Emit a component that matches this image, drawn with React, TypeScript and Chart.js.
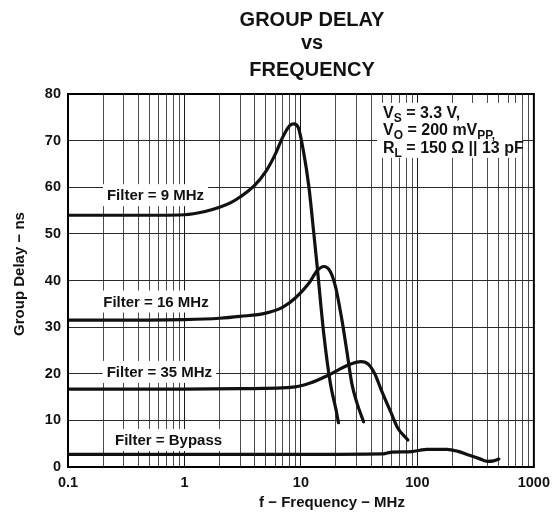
import React, { useEffect, useRef } from 'react';
import { Chart, registerables } from 'chart.js';

Chart.register(...registerables);

const FONT = '"Liberation Sans", Arial, Helvetica, sans-serif';
const INK = '#111111';

// ---- Text ----
const TITLE_LINES = ['GROUP DELAY', 'vs', 'FREQUENCY'];
const X_AXIS_TITLE = 'f − Frequency − MHz';
const Y_AXIS_TITLE = 'Group Delay − ns';

// ---- Axes ----
const X_MIN = 0.1;
const X_MAX = 1000;
const X_DECADES = [0.1, 1, 10, 100];
const X_MANTISSAS = [1, 2, 3, 4, 5, 6, 7, 8, 9];
const X_TICK_VALUES = [0.1, 1, 10, 100, 1000];
const X_TICK_LABELS = ['0.1', '1', '10', '100', '1000'];
const Y_MIN = 0;
const Y_MAX = 80;
const Y_STEP = 10;

// ---- Series (frequency in MHz, group delay in ns) ----
const F9_FREQ = [0.1, 0.3, 0.6, 1, 1.5, 2, 2.5, 3, 4, 5, 6, 7, 8, 8.7, 9.5, 10.5, 11.7, 12.9, 13.8, 15.7, 17.9, 20, 21];
const F9_DELAY = [54, 54, 54, 54.1, 54.8, 55.7, 56.7, 57.9, 60.4, 63.4, 67.0, 70.8, 73.2, 73.6, 72.8, 67.8, 60.1, 50.1, 42.9, 28.6, 17.9, 12.3, 9.5];

const F16_FREQ = [0.1, 0.5, 1, 2, 3, 5, 7, 9, 11.7, 13.8, 15.7, 17.9, 19.8, 22.5, 24.7, 27.3, 30.3, 34.5];
const F16_DELAY = [31.5, 31.5, 31.6, 31.9, 32.3, 33.0, 34.3, 36.3, 39.4, 42.1, 43.0, 41.9, 38.7, 31.5, 25.1, 18.0, 13.7, 9.7];

const F35_FREQ = [0.1, 0.5, 1, 3, 9, 12, 17.2, 25.5, 33, 38, 43, 49, 59.7, 68, 82.8];
const F35_DELAY = [16.7, 16.7, 16.7, 16.8, 17.2, 18.0, 19.7, 21.9, 22.6, 22.0, 20.0, 16.5, 11.5, 8.3, 5.8];

const BYPASS_FREQ = [0.1, 1, 10, 50, 55, 60, 90, 105, 120, 180, 220, 280, 340, 400, 450, 500];
const BYPASS_DELAY = [2.7, 2.7, 2.7, 2.8, 3.0, 3.2, 3.3, 3.6, 3.8, 3.8, 3.4, 2.5, 1.8, 1.2, 1.3, 1.7];

// ---- Curve labels (anchored in data coordinates) ----
const CURVE_LABELS = ['Filter = 9 MHz', 'Filter = 16 MHz', 'Filter = 35 MHz', 'Filter = Bypass'];
const CURVE_LABEL_F = [0.564, 0.569, 0.609, 0.73];
const CURVE_LABEL_V = [58.3, 35.5, 20.4, 5.8];

// ---- Conditions box ----
type Seg = [string, boolean];
const COND_LINES: Seg[][] = [
  [['V', false], ['S', true], [' = 3.3 V,', false]],
  [['V', false], ['O', true], [' = 200 mV', false], ['PP,', true]],
  [['R', false], ['L', true], [' = 150 Ω || 13 pF', false]],
];
const COND_BOX_F = [45, 792];
const COND_BOX_V = [78.1, 66.3];

const X_TICKS: number[] = [];
X_DECADES.forEach((d) => X_MANTISSAS.forEach((m) => X_TICKS.push(m * d)));
X_TICKS.push(X_MAX);

function decadeLabel(v: number): string {
  for (let i = 0; i < X_TICK_VALUES.length; i++) {
    if (Math.abs(v - X_TICK_VALUES[i]) < X_TICK_VALUES[i] * 1e-6) return X_TICK_LABELS[i];
  }
  return '';
}

function toPoints(fs: number[], vs: number[]) {
  return fs.map((f, i) => ({ x: f, y: vs[i] }));
}

const overlayPlugin = {
  id: 'overlay',
  beforeDatasetsDraw(chart: any) {
    const ctx: CanvasRenderingContext2D = chart.ctx;
    const xs = chart.scales.x;
    const ys = chart.scales.y;
    ctx.save();
    // curve labels with white background
    ctx.font = `bold 15px ${FONT}`;
    ctx.textAlign = 'center';
    ctx.textBaseline = 'middle';
    CURVE_LABELS.forEach((t, i) => {
      const px = xs.getPixelForValue(CURVE_LABEL_F[i]);
      const py = ys.getPixelForValue(CURVE_LABEL_V[i]);
      const w = ctx.measureText(t).width;
      ctx.fillStyle = '#ffffff';
      ctx.fillRect(px - w / 2 - 4, py - 11, w + 8, 22);
      ctx.fillStyle = INK;
      ctx.fillText(t, px, py + 1);
    });
    // conditions box
    const bl = xs.getPixelForValue(COND_BOX_F[0]);
    const br = xs.getPixelForValue(COND_BOX_F[1]);
    const bt = ys.getPixelForValue(COND_BOX_V[0]);
    const bb = ys.getPixelForValue(COND_BOX_V[1]);
    ctx.fillStyle = '#ffffff';
    ctx.fillRect(bl, bt, br - bl, bb - bt);
    ctx.fillStyle = INK;
    ctx.textAlign = 'left';
    ctx.textBaseline = 'alphabetic';
    const lineOffsets = [15, 32.5, 50];
    COND_LINES.forEach((segs, li) => {
      let cx = bl + 6;
      const base = bt + lineOffsets[li];
      segs.forEach(([txt, sub]) => {
        ctx.font = sub ? `bold 12px ${FONT}` : `bold 16px ${FONT}`;
        ctx.fillText(txt, cx, base + (sub ? 4 : 0));
        cx += ctx.measureText(txt).width;
      });
    });
    ctx.restore();
  },
  afterDraw(chart: any) {
    const ctx: CanvasRenderingContext2D = chart.ctx;
    const a = chart.chartArea;
    ctx.save();
    ctx.strokeStyle = '#000000';
    ctx.lineWidth = 2;
    ctx.strokeRect(a.left, a.top, a.right - a.left, a.bottom - a.top);
    // titles
    ctx.fillStyle = INK;
    ctx.font = `bold 20px ${FONT}`;
    ctx.textAlign = 'center';
    ctx.textBaseline = 'alphabetic';
    const titleBases = [26, 48.5, 76];
    TITLE_LINES.forEach((t, i) => ctx.fillText(t, 312, titleBases[i]));
    // axis titles
    ctx.font = `bold 15px ${FONT}`;
    ctx.fillText(X_AXIS_TITLE, 332, 507);
    ctx.translate(24, 274);
    ctx.rotate(-Math.PI / 2);
    ctx.fillText(Y_AXIS_TITLE, 0, 0);
    ctx.restore();
  },
};

export default function App() {
  const ref = useRef<HTMLCanvasElement | null>(null);
  useEffect(() => {
    document.body.style.margin = '0';
    if (!ref.current) return;
    const lineStyle = {
      borderColor: INK,
      borderWidth: 3.2,
      pointRadius: 0,
      fill: false,
      cubicInterpolationMode: 'monotone' as const,
      borderCapStyle: 'round' as const,
      borderJoinStyle: 'round' as const,
    };
    const chart = new Chart(ref.current, {
      type: 'line',
      data: {
        datasets: [
          { label: 'Filter = 9 MHz', data: toPoints(F9_FREQ, F9_DELAY), ...lineStyle },
          { label: 'Filter = 16 MHz', data: toPoints(F16_FREQ, F16_DELAY), ...lineStyle },
          { label: 'Filter = 35 MHz', data: toPoints(F35_FREQ, F35_DELAY), ...lineStyle },
          { label: 'Filter = Bypass', data: toPoints(BYPASS_FREQ, BYPASS_DELAY), ...lineStyle },
        ],
      },
      options: {
        responsive: false,
        animation: false,
        layout: { padding: { left: 0, right: 21, top: 94, bottom: 0 } },
        plugins: {
          legend: { display: false },
          tooltip: { enabled: false },
          title: { display: false },
        },
        scales: {
          x: {
            type: 'logarithmic',
            min: X_MIN,
            max: X_MAX,
            afterBuildTicks: (s: any) => {
              s.ticks = X_TICKS.map((v) => ({ value: v }));
            },
            afterFit: (s: any) => {
              s.height = 45;
            },
            ticks: {
              autoSkip: false,
              maxRotation: 0,
              minRotation: 0,
              padding: 7,
              color: INK,
              font: { family: FONT, size: 14.5, weight: 'bold' },
              callback: (v: any) => decadeLabel(Number(v)),
            },
            grid: {
              drawTicks: false,
              lineWidth: 1,
              color: (c: any) => (decadeLabel(c.tick?.value) ? '#1a1a1a' : '#4a4a4a'),
            },
            border: { display: false },
          },
          y: {
            min: Y_MIN,
            max: Y_MAX,
            afterFit: (s: any) => {
              s.width = 68;
            },
            ticks: {
              stepSize: Y_STEP,
              padding: 7,
              color: INK,
              font: { family: FONT, size: 14.5, weight: 'bold' },
            },
            grid: { drawTicks: false, lineWidth: 1, color: '#2a2a2a' },
            border: { display: false },
          },
        },
      },
      plugins: [overlayPlugin],
    } as any);
    return () => chart.destroy();
  }, []);
  return (
    <div style={{ width: 557, height: 512 }}>
      <canvas ref={ref} width={557} height={512} style={{ width: 557, height: 512, display: 'block' }} />
    </div>
  );
}
